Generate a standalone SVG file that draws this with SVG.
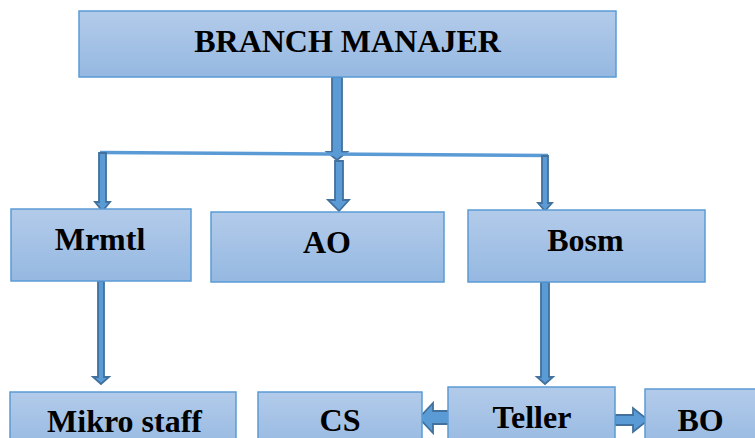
<svg xmlns="http://www.w3.org/2000/svg" width="755" height="438" viewBox="0 0 755 438">
  <style>
    .box { fill: url(#boxFill); stroke: #5b9bd5; stroke-width: 1.5; }
    .lbl { font-family: "Liberation Serif", "Times New Roman", serif; font-weight: bold; font-size: 32px; fill: #000; text-anchor: middle; }
    .arrow { fill: #5b9bd5; stroke: #41719c; stroke-width: 1.8; stroke-linejoin: miter; }
    .line { fill: none; stroke: #5b9bd5; stroke-width: 3.5; }
  </style>
  <defs>
    <linearGradient id="boxFill" x1="0" y1="0" x2="0" y2="1">
      <stop offset="0" stop-color="#b3cbea"/>
      <stop offset="1" stop-color="#95b8e1"/>
    </linearGradient>
  </defs>

  <rect width="755" height="438" fill="#fff"/>

  <!-- connectors -->
  <g id="connectors">
    <!-- trunk down from the branch manager -->
    <polygon class="arrow" points="332,77 342,77 342,152 347,152 337,160 327,152 332,152"/>
    <!-- horizontal bar -->
    <path class="line" d="M100,152.5 L548,155.5"/>
    <!-- drops to the second level -->
    <polygon class="arrow" points="99,153 106,153 106,202 110,202 102.5,211 95,202 99,202"/>
    <polygon class="arrow" points="335,161 343,161 343,200 349,200 339,211 328,200 335,200"/>
    <polygon class="arrow" points="542,156 548,156 548,203 552,203 545,211 538,203 542,203"/>
    <!-- Mrmtl to Mikro staff -->
    <polygon class="arrow" points="98,281 104,281 104,377 109,377 101,384 93,377 98,377"/>
    <!-- Bosm to Teller -->
    <polygon class="arrow" points="541,282 549,282 549,377 553,377 545,384 537,377 541,377"/>
    <!-- Teller to CS -->
    <polygon class="arrow" points="452,411 452,424 433,424 433,433 419,418 433,403 433,411"/>
    <!-- Teller to BO -->
    <polygon class="arrow" points="615,415 633,415 633,408 648,420 633,432 633,425 615,425"/>
  </g>

  <g id="branch-manajer">
    <rect class="box" x="79" y="11" width="537" height="66"/>
    <text class="lbl" x="347.5" y="52">BRANCH MANAJER</text>
  </g>

  <g id="mrmtl">
    <rect class="box" x="11" y="209" width="180" height="72"/>
    <text class="lbl" x="100" y="250">Mrmtl</text>
  </g>

  <g id="ao">
    <rect class="box" x="211" y="212" width="233" height="70"/>
    <text class="lbl" x="327" y="253">AO</text>
  </g>

  <g id="bosm">
    <rect class="box" x="468" y="210" width="237" height="72"/>
    <text class="lbl" x="585.5" y="251">Bosm</text>
  </g>

  <g id="mikro-staff">
    <rect class="box" x="10" y="392" width="226" height="60"/>
    <text class="lbl" x="124.5" y="432">Mikro staff</text>
  </g>

  <g id="cs">
    <rect class="box" x="258" y="392" width="164" height="60"/>
    <text class="lbl" x="340" y="431">CS</text>
  </g>

  <g id="teller">
    <rect class="box" x="448" y="387" width="167" height="65"/>
    <text class="lbl" x="532" y="428">Teller</text>
  </g>

  <g id="bo">
    <rect class="box" x="645" y="389" width="130" height="63"/>
    <text class="lbl" x="700.5" y="431">BO</text>
  </g>
</svg>
